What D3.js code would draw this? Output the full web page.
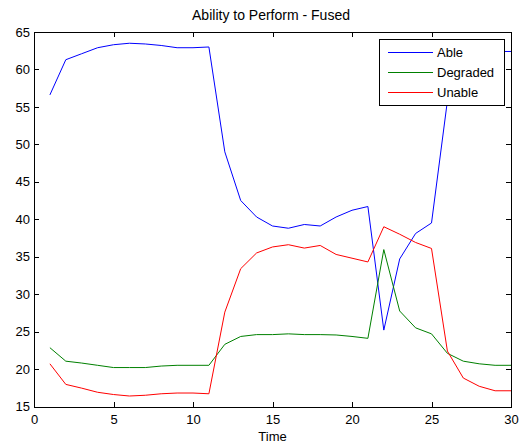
<!DOCTYPE html>
<html><head><meta charset="utf-8">
<script src="https://cdn.jsdelivr.net/npm/d3@7"></script>
<style>
html,body{margin:0;padding:0;background:#fff;}
svg{display:block;font-family:"Liberation Sans",Arial,sans-serif;}
</style></head>
<body>
<svg id="c" width="524" height="448"></svg>
<script>
const time = d3.range(1, 31);
const able = [56.6, 61.3, 62.1, 62.9, 63.3, 63.5, 63.4, 63.2, 62.9, 62.9, 63.0, 49.0, 42.5, 40.3, 39.1, 38.8, 39.3, 39.1, 40.3, 41.2, 41.7, 25.2, 34.7, 38.1, 39.5, 55.8, 62.4, 62.4, 62.4, 62.4];
const degraded = [22.85, 21.05, 20.8, 20.5, 20.2, 20.2, 20.2, 20.4, 20.5, 20.5, 20.5, 23.3, 24.35, 24.6, 24.6, 24.7, 24.6, 24.6, 24.55, 24.35, 24.1, 35.95, 27.75, 25.5, 24.7, 22.1, 21.05, 20.7, 20.5, 20.5];
const unable = [20.7, 17.95, 17.45, 16.9, 16.6, 16.4, 16.5, 16.7, 16.8, 16.8, 16.7, 27.6, 33.4, 35.5, 36.3, 36.6, 36.15, 36.5, 35.3, 34.8, 34.3, 39.0, 38.0, 36.9, 36.1, 22.4, 18.8, 17.7, 17.1, 17.1];
const seriesNames = ["Able", "Degraded", "Unable"];
const seriesColors = ["#0000ff", "#008000", "#ff0000"];
const xTicks = [0, 5, 10, 15, 20, 25, 30];
const yTicks = [15, 20, 25, 30, 35, 40, 45, 50, 55, 60, 65];
const title = "Ability to Perform - Fused";
const xLabel = "Time";

const svg = d3.select("#c");
const L = 34, R = 511, T = 32, B = 406.5;
const x = d3.scaleLinear().domain([0, 30]).range([L, R]);
const y = d3.scaleLinear().domain([15, 65]).range([B, T]);

svg.append("rect").attr("width", 524).attr("height", 448).attr("fill", "#fff");

// data lines
const seriesData = [able, degraded, unable];
const line = d3.line().x((d, i) => x(time[i])).y(d => y(d));
seriesData.forEach((s, k) => {
  svg.append("path").datum(s).attr("d", line)
    .attr("fill", "none").attr("stroke", seriesColors[k]).attr("stroke-width", 1);
});

// axes (box with inward ticks on all sides)
const fontSize = 13;
const gB = svg.append("g").attr("transform", `translate(0,${B})`)
  .call(d3.axisBottom(x).tickValues(xTicks).tickSizeInner(-5).tickSizeOuter(0).tickPadding(8));
const gT = svg.append("g").attr("transform", `translate(0,${T})`)
  .call(d3.axisTop(x).tickValues(xTicks).tickSizeInner(-5).tickSizeOuter(0).tickFormat(""));
const gL = svg.append("g").attr("transform", `translate(${L},0)`)
  .call(d3.axisLeft(y).tickValues(yTicks).tickSizeInner(-5).tickSizeOuter(0).tickPadding(4));
const gR = svg.append("g").attr("transform", `translate(${R},0)`)
  .call(d3.axisRight(y).tickValues(yTicks).tickSizeInner(-5).tickSizeOuter(0).tickFormat(""));
[gB, gT, gL, gR].forEach(g => {
  g.selectAll("path.domain").attr("stroke", "#000").attr("shape-rendering", "crispEdges");
  g.selectAll("line").attr("stroke", "#000").attr("shape-rendering", "crispEdges");
  g.selectAll("text").attr("fill", "#000").attr("font-size", fontSize)
    .attr("font-family", '"Liberation Sans",Arial,sans-serif');
});

// title and x label
svg.append("text").attr("x", 271).attr("y", 20).attr("text-anchor", "middle")
  .attr("font-size", 14).attr("fill", "#000").text(title);
svg.append("text").attr("x", x(15)).attr("y", 441).attr("text-anchor", "middle")
  .attr("font-size", fontSize).attr("fill", "#000").text(xLabel);

// legend
const lg = svg.append("g");
lg.append("rect").attr("x", 379.5).attr("y", 39.5).attr("width", 125).attr("height", 66)
  .attr("fill", "#fff").attr("stroke", "#000").attr("stroke-width", 1);
seriesNames.forEach((n, k) => {
  const yy = 52 + k * 20;
  lg.append("line").attr("x1", 388).attr("x2", 433).attr("y1", yy + 0.5).attr("y2", yy + 0.5)
    .attr("stroke", seriesColors[k]).attr("stroke-width", 1);
  lg.append("text").attr("x", 437).attr("y", yy + 5).attr("font-size", fontSize)
    .attr("fill", "#000").text(n);
});
</script>
</body></html>
